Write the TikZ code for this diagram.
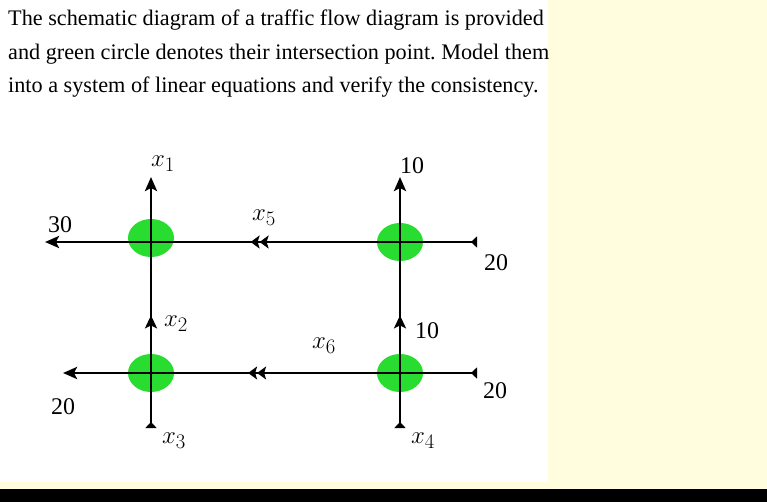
\documentclass[tikz,border=0pt]{standalone}
\usepackage{fontspec}
\setmainfont{Liberation Serif}
\usetikzlibrary{arrows.meta,shapes.geometric,decorations.markings}
\definecolor{pagebg}{RGB}{255,253,222}
\definecolor{juncgreen}{RGB}{40,220,48}

\begin{document}
\frenchspacing
\begin{tikzpicture}[
  x=1bp,y=-1bp,
  junc/.style={ellipse,fill=juncgreen,minimum width=46bp,minimum height=38bp,inner sep=0pt},
  road/.style={line width=2.8bp,black},
  inflow/.style={{Triangle[reversed,length=6bp,width=11bp]}-},
  outflow/.style={-{Stealth[length=14bp,width=12bp,inset=3bp]}},
  flow/.style={postaction={decorate},decoration={markings,
    mark=at position #1 with {\arrow{Stealth[length=13bp,width=12bp,inset=3bp]}}}},
  dflow/.style={postaction={decorate},decoration={markings,
    mark=at position #1 with {\arrow{Stealth[length=9bp,width=13bp,inset=2bp] Stealth[length=9bp,width=13bp,inset=2bp]}}}},
  lab/.style={inner sep=0pt,font=\fontsize{24}{28}\selectfont},
  xlab/.style={inner sep=0pt,font=\fontsize{28}{32}\selectfont}
]
\useasboundingbox (0,0) rectangle (767,502);
% page
\fill[pagebg] (0,0) rectangle (767,489);
\fill[white] (0,0) rectangle (548,482);
\fill[black] (0,489) rectangle (767,502);

\node[anchor=base west,align=left,inner sep=0pt,
      font=\fontsize{22.3}{34}\selectfont] (task) at (8,93)
  {The schematic diagram of a traffic flow diagram is provided\\
   and green circle denotes their intersection point. Model them\\
   into a system of linear equations and verify the consistency.};

% crossings
\coordinate (nw) at (151,242);
\coordinate (ne) at (400,242);
\coordinate (sw) at (151,373);
\coordinate (se) at (400,373);
\node[junc,yshift=4bp] (nwDot) at (nw) {};
\node[junc] (neDot) at (ne) {};
\node[junc] (swDot) at (sw) {};
\node[junc] (seDot) at (se) {};

% free ends
\coordinate (nwOut) at (45,242);
\coordinate (neIn) at (477,242);
\coordinate (swOut) at (63,373);
\coordinate (seIn) at (477,373);
\coordinate (nwTop) at (151,177);
\coordinate (neTop) at (400,177);
\coordinate (swBot) at (151,428);
\coordinate (seBot) at (400,428);

% top street
\draw[road,inflow] (neIn) -- (ne);
\draw[road,dflow=0.6] (ne) -- (nw);
\draw[road,outflow] (nw) -- (nwOut);
% bottom street
\draw[road,inflow] (seIn) -- (se);
\draw[road,dflow=0.61] (se) -- (sw);
\draw[road,outflow] (sw) -- (swOut);
% left avenue
\draw[road,inflow] (swBot) -- (sw);
\draw[road,flow=0.44] (sw) -- (nw);
\draw[road,outflow] (nw) -- (nwTop);
% right avenue
\draw[road,inflow] (seBot) -- (se);
\draw[road,flow=0.44] (se) -- (ne);
\draw[road,outflow] (ne) -- (neTop);

% labels
\node[xlab] (lx1) at (163,164) {$x_1$};
\node[lab] (lnt) at (412,166) {10};
\node[lab] (lwt) at (60,225) {30};
\node[xlab] (lx5) at (264,218) {$x_5$};
\node[lab] (let) at (496,263) {20};
\node[xlab] (lx2) at (176,324) {$x_2$};
\node[lab] (lnm) at (427,331) {10};
\node[xlab] (lx6) at (324,346) {$x_6$};
\node[lab] (lwb) at (63,407) {20};
\node[lab] (leb) at (495,391) {20};
\node[xlab] (lx3) at (174,441) {$x_3$};
\node[xlab] (lx4) at (423,441) {$x_4$};
\end{tikzpicture}
\end{document}
